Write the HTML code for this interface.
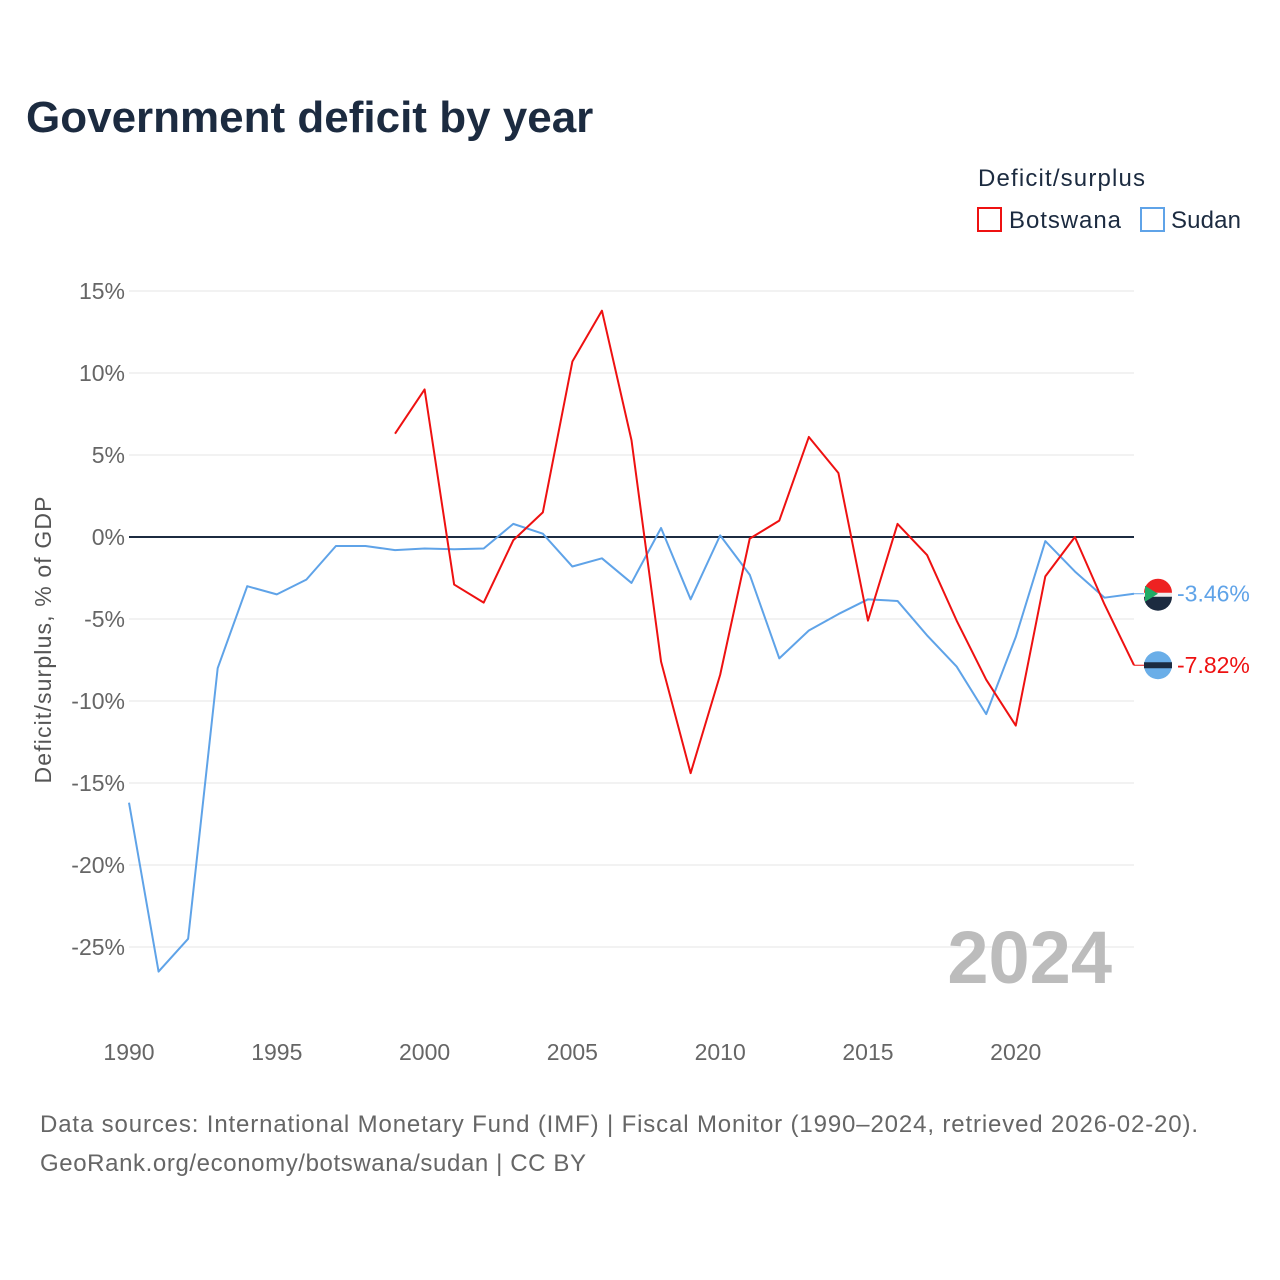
<!DOCTYPE html>
<html><head><meta charset="utf-8"><style>
body{margin:0;background:#fff;font-family:"Liberation Sans",sans-serif}
svg{display:block}
</style></head><body>
<svg width="1280" height="1280" id="chart" font-family="Liberation Sans, sans-serif">
<text x="26" y="132" font-size="44" font-weight="bold" fill="#1c2b40">Government deficit by year</text>
<text x="978" y="186" font-size="24" fill="#1c2b40" textLength="167">Deficit/surplus</text>
<g><rect x="978" y="208" width="23" height="23" fill="none" stroke="#ee1111" stroke-width="2"/><text x="1009" y="228" font-size="24" fill="#1c2b40" textLength="112">Botswana</text></g>
<g><rect x="1141" y="208" width="23" height="23" fill="none" stroke="#5fa3e8" stroke-width="2"/><text x="1171" y="228" font-size="24" fill="#1c2b40" textLength="70">Sudan</text></g>
<g id="grid"></g><g id="lines"></g><g id="ends"></g>
<text x="1112" y="983" font-size="74" font-weight="bold" fill="#bcbcbc" text-anchor="end">2024</text>
<text transform="translate(51,640) rotate(-90)" font-size="23" fill="#555" text-anchor="middle" textLength="287">Deficit/surplus, % of GDP</text>
<text x="40" y="1132" font-size="24" fill="#666" textLength="1158">Data sources: International Monetary Fund (IMF) | Fiscal Monitor (1990–2024, retrieved 2026-02-20).</text>
<text x="40" y="1171" font-size="24" fill="#666" textLength="546">GeoRank.org/economy/botswana/sudan | CC BY</text>
</svg>
<script>
const yTicks=[15,10,5,0,-5,-10,-15,-20,-25];
const xTicks=[1990,1995,2000,2005,2010,2015,2020];
const sudanYears=[1990,1991,1992,1993,1994,1995,1996,1997,1998,1999,2000,2001,2002,2003,2004,2005,2006,2007,2008,2009,2010,2011,2012,2013,2014,2015,2016,2017,2018,2019,2020,2021,2022,2023,2024];
const sudanValues=[-16.2,-26.5,-24.5,-8.0,-3.0,-3.5,-2.6,-0.55,-0.55,-0.8,-0.7,-0.75,-0.7,0.8,0.2,-1.8,-1.3,-2.8,0.55,-3.8,0.1,-2.3,-7.4,-5.7,-4.7,-3.8,-3.9,-6.0,-7.9,-10.8,-6.1,-0.25,-2.1,-3.7,-3.46];
const botswanaYears=[1999,2000,2001,2002,2003,2004,2005,2006,2007,2008,2009,2010,2011,2012,2013,2014,2015,2016,2017,2018,2019,2020,2021,2022,2023,2024];
const botswanaValues=[6.3,9.0,-2.9,-4.0,-0.2,1.5,10.7,13.8,5.9,-7.6,-14.4,-8.4,-0.1,1.0,6.1,3.9,-5.1,0.8,-1.1,-5.1,-8.7,-11.5,-2.4,0.0,-4.1,-7.82];
const X=y=>129+(y-1990)*(1134-129)/34;
const Y=v=>537-v*16.4;
const NS="http://www.w3.org/2000/svg";
function mk(t,a,p){const e=document.createElementNS(NS,t);for(const k in a)e.setAttribute(k,a[k]);p.appendChild(e);return e;}
const grid=document.getElementById('grid');
yTicks.forEach(v=>{
 const l=mk('line',{x1:129,x2:1134,y1:Y(v),y2:Y(v),stroke:v===0?'#1c2b40':'#e6e6e6','stroke-width':v===0?2:1},grid);
 
 
 const t=mk('text',{x:125,y:Y(v)+8,'font-size':23,fill:'#666','text-anchor':'end'},grid);
 t.textContent=v+'%';
 
 
});
xTicks.forEach(y=>{
 const t=mk('text',{x:X(y),y:1060,'font-size':23,fill:'#666','text-anchor':'middle'},grid);
 t.textContent=y;
 
 
});
const lines=document.getElementById('lines');
function series(ys,vs,c,name){
 const p=mk('polyline',{points:ys.map((y,i)=>X(y)+','+Y(vs[i])).join(' '),fill:'none',stroke:c,'stroke-width':2,'stroke-linejoin':'round'},lines);
 
 
 const last=vs[vs.length-1];
 const ends=document.getElementById('ends');
 const cy=Y(last);
 const ci=mk('circle',{cx:1158,cy:cy,r:14,fill:name==='sudan'?'#eee':'#6aaee8'},ends);
 
 
 if(name==='sudan'){mk('path',{d:`M1144 ${cy-1} A14 14 0 0 1 1172 ${cy-1}Z`,fill:'#e22'},ends);mk('path',{d:`M1144 ${cy+3} A14 14 0 0 0 1172 ${cy+3}Z`,fill:'#1c2b40'},ends);mk('path',{d:`M1145 ${cy-8} L1158 ${cy} L1145 ${cy+8}Z`,fill:'#2a6'},ends);}
 else{mk('rect',{x:1144,y:cy-3,width:28,height:6,fill:'#1c2b40'},ends);}
 mk('line',{x1:1134,x2:1144,y1:cy,y2:cy,stroke:c,'stroke-width':1},ends);
 const t=mk('text',{x:1177,y:cy+8,'font-size':23,fill:c},ends);
 t.textContent=last.toFixed(2)+'%';
 
 
}
series(sudanYears,sudanValues,'#5fa3e8','sudan');
series(botswanaYears,botswanaValues,'#ee1111','botswana');
</script>
</body></html>
